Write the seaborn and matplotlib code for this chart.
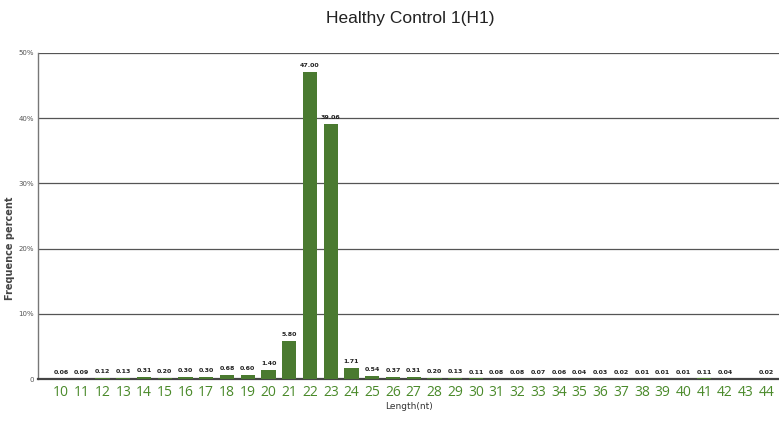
import matplotlib.pyplot as plt
import seaborn as sns
import pandas as pd
import numpy as np

# --- Data ---
lengths = [str(n) for n in range(10, 45)]
percents = [0.06, 0.09, 0.12, 0.13, 0.31, 0.20, 0.30, 0.30, 0.68, 0.60,
            1.40, 5.80, 47.00, 39.06, 1.71, 0.54, 0.37, 0.31, 0.20, 0.13,
            0.11, 0.08, 0.08, 0.07, 0.06, 0.04, 0.03, 0.02, 0.01, 0.01,
            0.01, 0.11, 0.04, 0.00, 0.02]
ytick_vals = [0, 10, 20, 30, 40, 50]
ytick_labels = ["0", "10%", "20%", "30%", "40%", "50%"]

df = pd.DataFrame({"Length": lengths, "Percent": percents})

sns.set_style("white")
plt.rcParams['font.family'] = ['DejaVu Sans']

fig = plt.figure(figsize=(7.79, 4.26), dpi=100)
ax = fig.add_axes([0.049, 0.110, 0.951, 0.766])

bar_color = "#4a7a30"
sns.barplot(data=df, x="Length", y="Percent", color=bar_color,
            width=0.68, saturation=1, linewidth=0, ax=ax, zorder=3)

# value labels
for i, v in enumerate(percents):
    if v > 0:
        ax.text(i, v + 0.6, f"{v:.2f}", ha="center", va="bottom",
                fontsize=4.5, fontweight="bold", color="#222222",
                family="Liberation Sans Narrow")

ax.set_xlim(-1.1, 34.6)
ax.set_ylim(0, 50)
ax.set_yticks(ytick_vals)
ax.set_yticklabels(ytick_labels)
ax.yaxis.grid(True, color="#555555", linewidth=0.9, zorder=0)
ax.tick_params(axis="y", labelsize=5, colors="#555555", length=2, pad=1)
ax.tick_params(axis="x", labelsize=10, labelcolor="#4a8a2a", length=0, pad=4)
for lbl in ax.get_xticklabels():
    lbl.set_family("Open Sans")

for side in ["top", "right"]:
    ax.spines[side].set_visible(False)
ax.spines["left"].set_color("#777777")
ax.spines["left"].set_linewidth(1.0)
ax.spines["bottom"].set_color("#444444")
ax.spines["bottom"].set_linewidth(1.6)

ax.set_xlabel("Length(nt)", fontsize=6.5, color="#333333", labelpad=2)
ax.set_ylabel("Frequence percent", fontsize=7, fontweight="bold",
              color="#444444")
ax.yaxis.set_label_coords(-0.031, 0.4)
fig.suptitle("Healthy Control 1(H1)", fontsize=12.5, color="#222222",
             family="Liberation Sans", x=0.527, y=0.975)

fig.savefig("out.png", dpi=100)
